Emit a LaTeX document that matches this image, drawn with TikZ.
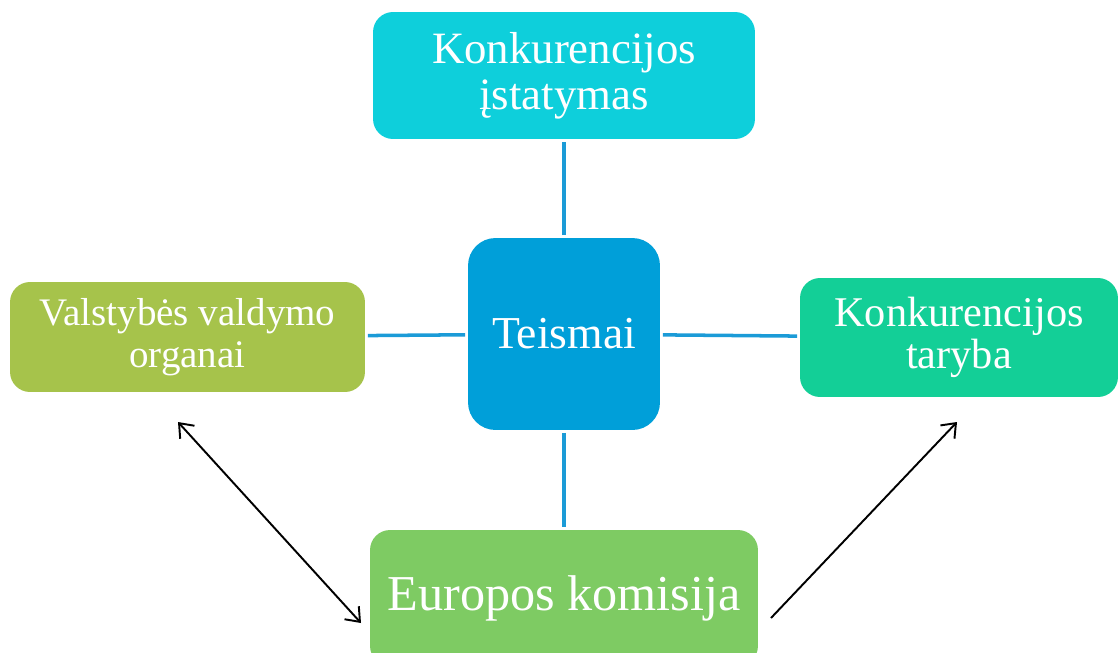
\documentclass[tikz,border=0pt]{standalone}
\usepackage{fontspec}
\setmainfont{Liberation Serif}
\usetikzlibrary{arrows.meta}
\definecolor{istatcol}{HTML}{0ECFDB}
\definecolor{teiscol}{HTML}{009FD9}
\definecolor{valdcol}{HTML}{A6C34B}
\definecolor{tarcol}{HTML}{13CF97}
\definecolor{eurcol}{HTML}{7ECB63}
\definecolor{linkcol}{HTML}{1B9BD7}

\begin{document}
\begin{tikzpicture}[x=0.02cm,y=-0.02cm,
    box/.style={rounded corners=0.4cm,text=white,align=center,inner sep=0pt},
    link/.style={linkcol,line width=2pt,shorten <=1.5pt,shorten >=1.5pt},
    arr/.style={line width=1.1pt,>={Straight Barb[length=7pt,width=11pt]}}]
  \begin{scope}
    \clip (0,0) rectangle (1120,653);
    \node[box,fill=istatcol,minimum width=7.64cm,minimum height=2.54cm,font=\fontsize{25.5}{26}\selectfont] (istatymas) at (564,75.5) {Konkurencijos\\įstatymas};
    \node[box,fill=teiscol,rounded corners=0.55cm,minimum size=3.84cm,font=\fontsize{26}{26}\selectfont] (teismai) at (564,334) {Teismai};
    \node[box,fill=valdcol,minimum width=7.1cm,minimum height=2.2cm,font=\fontsize{22.2}{24}\selectfont] (valdymas) at (187.5,337) {Valstybės valdymo\\organai};
    \node[box,fill=tarcol,minimum width=6.36cm,minimum height=2.38cm,font=\fontsize{24.1}{23.5}\selectfont] (taryba) at (959,337.5) {Konkurencijos\\taryba};
    \node[box,fill=eurcol,minimum width=7.76cm,minimum height=2.72cm,font=\fontsize{28.6}{28.6}\selectfont] (komisija) at (564,598) {Europos komisija};
    \draw[link] (teismai) -- (istatymas);
    \draw[link] (teismai) -- (valdymas);
    \draw[link] (teismai) -- (taryba);
    \draw[link] (teismai) -- (komisija);
    \coordinate (vtip) at (178,422);
    \coordinate (ktip) at (361,623);
    \coordinate (kstart) at (771,618);
    \coordinate (ttip) at (957,422);
    \draw[arr,<->] (vtip) -- (ktip);
    \draw[arr,->] (kstart) -- (ttip);
  \end{scope}
  \pgfresetboundingbox
  \useasboundingbox (0,0) rectangle (1120,653);
\end{tikzpicture}
\end{document}
